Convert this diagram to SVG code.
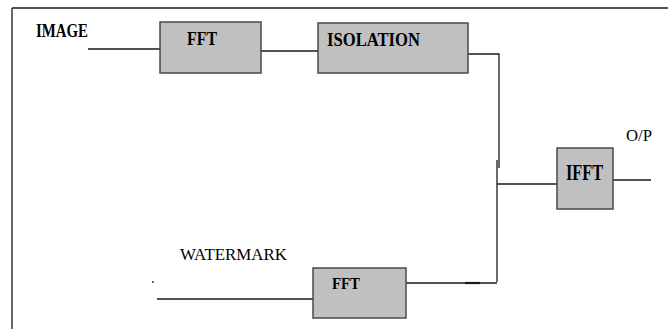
<svg xmlns="http://www.w3.org/2000/svg" width="668" height="329" viewBox="0 0 668 329">
<style>
.box{fill:#c0c0c0;stroke:#4a4a4a;stroke-width:1.5}
.ln{stroke:#1a1a1a;stroke-width:1.3;fill:none}
text{font-family:"Liberation Serif","DejaVu Serif",serif;fill:#000}
.bt{font-weight:bold}
.nt{font-size:16px}
</style>
<rect width="668" height="329" fill="#fff"/>
<g id="frame" class="ln" stroke-width="1.6">
<line x1="12" y1="8" x2="668" y2="8"/>
<line x1="12" y1="8" x2="12" y2="329"/>
</g>
<g id="connectors" class="ln">
<line x1="88" y1="49" x2="160" y2="49"/>
<line x1="261" y1="51" x2="318" y2="51"/>
<polyline points="468,54 499,54 499,168"/>
<line x1="497" y1="160" x2="497" y2="282"/>
<line x1="497" y1="184" x2="557" y2="184"/>
<line x1="157" y1="299" x2="313" y2="299"/>
<line x1="153" y1="281" x2="153" y2="283"/>
<line x1="406" y1="283" x2="497" y2="283"/>
<line x1="465" y1="283" x2="480" y2="283" stroke-width="2.2"/>
<line x1="613" y1="180" x2="651" y2="180"/>
</g>
<g id="label-image"><text class="bt" x="36" y="37" font-size="18" textLength="52" lengthAdjust="spacingAndGlyphs">IMAGE</text></g>
<g id="label-watermark"><text class="nt" x="180" y="260" textLength="107" lengthAdjust="spacingAndGlyphs">WATERMARK</text></g>
<g id="label-op"><text class="nt" x="626" y="141" textLength="26" lengthAdjust="spacingAndGlyphs">O/P</text></g>
<g id="fft1">
<rect class="box" x="160" y="22" width="101" height="51"/>
<text class="bt" x="187" y="45" font-size="18" textLength="30" lengthAdjust="spacingAndGlyphs">FFT</text>
</g>
<g id="isolation">
<rect class="box" x="318" y="23" width="150" height="50"/>
<text class="bt" x="327" y="46" font-size="18" textLength="93" lengthAdjust="spacingAndGlyphs">ISOLATION</text>
</g>
<g id="ifft">
<rect class="box" x="557" y="148" width="56" height="61"/>
<text class="bt" x="566" y="180" font-size="24" textLength="37" lengthAdjust="spacingAndGlyphs">IFFT</text>
</g>
<g id="fft2">
<rect class="box" x="313" y="268" width="93" height="50"/>
<text class="bt" x="332" y="289" font-size="16" textLength="28" lengthAdjust="spacingAndGlyphs">FFT</text>
</g>
</svg>
